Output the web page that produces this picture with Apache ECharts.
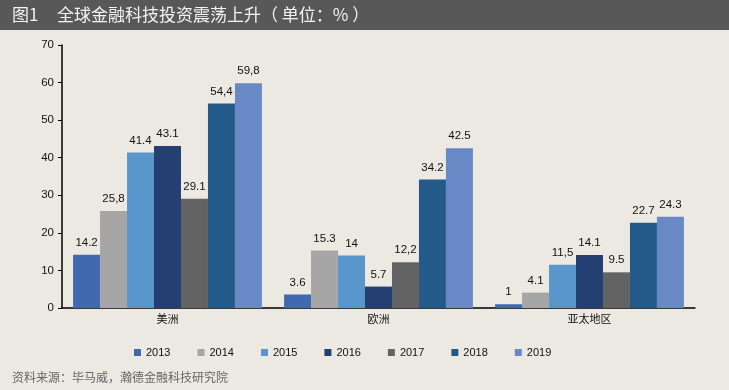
<!DOCTYPE html>
<html><head><meta charset="utf-8">
<script src="https://cdn.jsdelivr.net/npm/echarts@6/dist/echarts.min.js"></script>
<style>html,body{margin:0;padding:0;background:#ECE9E3;}#c{width:729px;height:390px;}</style>
</head><body><div id="c"></div>
<script>
const categories = ['美洲', '欧洲', '亚太地区'];
const years = ['2013', '2014', '2015', '2016', '2017', '2018', '2019'];
const v2013 = [14.2, 3.6, 1];
const v2014 = [25.8, 15.3, 4.1];
const v2015 = [41.4, 14, 11.5];
const v2016 = [43.1, 5.7, 14.1];
const v2017 = [29.1, 12.2, 9.5];
const v2018 = [54.4, 34.2, 22.7];
const v2019 = [59.8, 42.5, 24.3];
const t2013 = ['14.2', '3.6', '1'];
const t2014 = ['25,8', '15.3', '4.1'];
const t2015 = ['41.4', '14', '11,5'];
const t2016 = ['43.1', '5.7', '14.1'];
const t2017 = ['29.1', '12,2', '9.5'];
const t2018 = ['54,4', '34.2', '22.7'];
const t2019 = ['59,8', '42.5', '24.3'];
const yTicks = [0, 10, 20, 30, 40, 50, 60, 70];

const values = [v2013, v2014, v2015, v2016, v2017, v2018, v2019];
const texts = [t2013, t2014, t2015, t2016, t2017, t2018, t2019];
const colors = ['#4169B0', '#A6A6A6', '#5896CC', '#243F71', '#636363', '#245A8A', '#6889C5'];

const chart = echarts.init(document.getElementById('c'), null, {renderer: 'canvas'});
const font = 'Liberation Sans, Arial, sans-serif';
chart.setOption({
  backgroundColor: '#ECE9E3',
  animation: false,
  graphic: [
    {type: 'rect', left: 0, top: 0, shape: {width: 729, height: 30}, style: {fill: '#585858'}},
    {type: 'text', left: 12, top: 6, style: {text: '图1', fill: '#F2F2F2', font: '17px "Noto Sans CJK SC"'}},
    {type: 'text', left: 57, top: 6, style: {text: '全球金融科技投资震荡上升（ 单位：% ）', fill: '#F2F2F2', font: '17px "Noto Sans CJK SC"'}},
    {type: 'text', left: 12, top: 371, style: {text: '资料来源：毕马威，瀚德金融科技研究院', fill: '#666666', font: '12px "Noto Sans CJK SC"'}}
  ],
  legend: {
    left: 129, top: 342, itemWidth: 7, itemHeight: 7, itemGap: 27, icon: 'rect',
    textStyle: {fontSize: 11, color: '#111', fontFamily: font},
    data: years
  },
  grid: {left: 62, right: 34, top: 45, bottom: 82},
  xAxis: {
    type: 'category', data: categories,
    axisLine: {lineStyle: {color: '#000', width: 1.5}},
    axisTick: {show: false},
    axisLabel: {color: '#111', fontSize: 11, fontFamily: '"Noto Sans CJK SC"', margin: 5}
  },
  yAxis: {
    type: 'value', min: 0, max: 70, interval: 10,
    axisLine: {show: true, lineStyle: {color: '#000', width: 1.5}},
    axisTick: {show: true, length: 4, lineStyle: {color: '#000'}},
    splitLine: {show: false},
    axisLabel: {color: '#111', fontSize: 11.5, fontFamily: font, margin: 8,
      formatter: v => yTicks.includes(v) ? String(v) : ''}
  },
  series: years.map((y, i) => ({
    name: y, type: 'bar', data: values[i], barGap: '0%', barCategoryGap: '10.5%',
    itemStyle: {color: colors[i]},
    label: {show: true, position: 'top', distance: 6, color: '#111', fontSize: 11.5, fontFamily: font,
      formatter: p => texts[i][p.dataIndex]}
  }))
});
</script></body></html>
